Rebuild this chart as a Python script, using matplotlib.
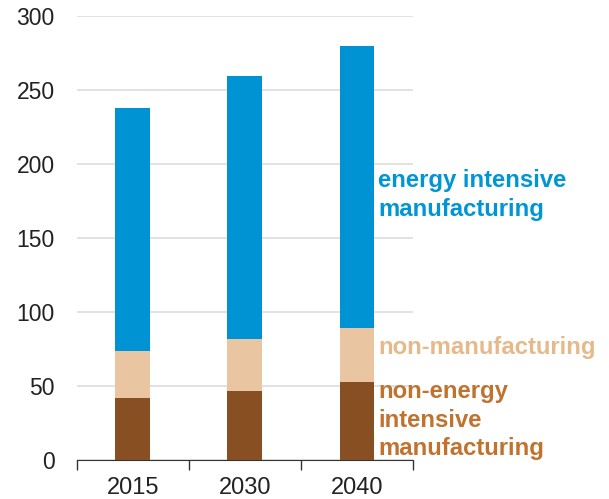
import numpy as np
import matplotlib
matplotlib.use("Agg")
import matplotlib.pyplot as plt

# data
years = ["2015", "2030", "2040"]
non_energy = [42, 47, 53]
non_manuf = [32, 35, 36.5]
energy_int = [163.5, 177.5, 190]

blue = "#0093d4"
tan = "#e9c6a1"
brown = "#874f22"

plt.rcParams["font.family"] = ["Liberation Sans", "DejaVu Sans"]

fig = plt.figure(figsize=(6.09, 4.99), dpi=100)
ax = fig.add_axes([0.126, 0.078, 0.552, 0.89])

x = np.arange(len(years))
w = 0.31
b1 = np.array(non_energy)
b2 = b1 + np.array(non_manuf)
ax.bar(x, non_energy, w, color=brown, zorder=3)
ax.bar(x, non_manuf, w, bottom=b1, color=tan, zorder=3)
ax.bar(x, energy_int, w, bottom=b2, color=blue, zorder=3)

ax.set_xlim(-0.5, 2.5)
ax.set_ylim(0, 300)
ax.set_yticks(np.arange(0, 301, 50))
ax.yaxis.grid(True, color="#dddddd", linewidth=1.2, zorder=0)
ax.tick_params(axis="y", length=0, pad=16, labelsize=16.5, labelcolor="#222222")

ax.set_xticks(x)
ax.set_xticklabels(years)
ax.set_xticks([-0.5, 0.5, 1.5, 2.5], minor=True)
ax.tick_params(axis="x", which="major", length=0, pad=12, labelsize=17, labelcolor="#222222")
ax.tick_params(axis="x", which="minor", length=7, width=1, color="#333333")

for s in ["top", "right", "left"]:
    ax.spines[s].set_visible(False)
ax.spines["bottom"].set_color("#333333")

# inline labels to the right of the last bar
lx = x[-1] + w / 2
lab = dict(xycoords="data", textcoords="offset points", ha="left", va="center",
           fontsize=17.2, fontweight="bold", annotation_clip=False, linespacing=1.32)
ax.annotate("energy intensive\nmanufacturing", (lx, 179), xytext=(3, 0), color="#0096d6", **lab)
ax.annotate("non-manufacturing", (lx, 76), xytext=(3, 0), color="#e6b98a", **lab)
ax.annotate("non-energy\nintensive\nmanufacturing", (lx, 27), xytext=(3, 0), color="#c0722f", **lab)

fig.savefig("out.png", dpi=100)
